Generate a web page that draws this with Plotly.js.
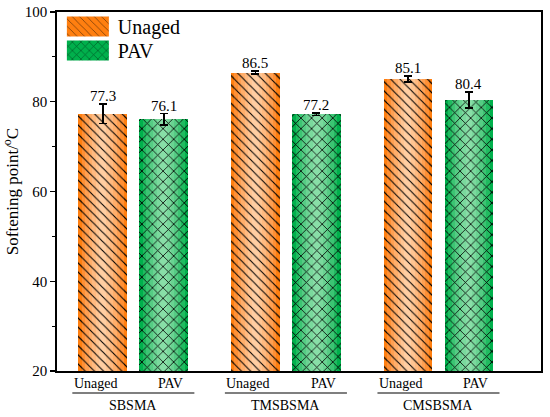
<!DOCTYPE html>
<html>
<head>
<meta charset="utf-8">
<script src="https://cdn.plot.ly/plotly-3.0.1.min.js"></script>
<style>html,body{margin:0;padding:0;background:#fff;}#chart{width:550px;height:417px;}</style>
</head>
<body>
<div id="chart"></div>
<script>
// ---- data ----
var groups = ["SBSMA", "TMSBSMA", "CMSBSMA"];
var seriesNames = ["Unaged", "PAV"];
var unagedValues = [77.3, 86.5, 85.1];
var unagedErrors = [2.2, 0.35, 0.65];
var pavValues = [76.1, 77.2, 80.4];
var pavErrors = [1.25, 0.3, 1.8];
var yTicks = [20, 40, 60, 80, 100];

// ---- styles ----
var FONT = "Liberation Serif";
var groupStep = 2.5, barW = 0.8;
var orangeShades = ["#FF7F10", "#FF9035", "#FFA052", "#FFAE6A", "#FFBA80", "#FFC592", "#FFCEA2"];
var greenShades = ["#00B04C", "#20BB60", "#3CC473", "#55CC84", "#6AD392", "#7AD99D", "#88DEA7"];

var series = [
  {name: seriesNames[0], vals: unagedValues, errs: unagedErrors, off: 0, shades: orangeShades, shape: "\\", size: 6.5, sol: 0.16, legend: "legend", ly: 1.014},
  {name: seriesNames[1], vals: pavValues, errs: pavErrors, off: 1, shades: greenShades, shape: "x", size: 7.5, sol: 0.2, legend: "legend2", ly: 0.947}
];

var traces = [];
var annotations = [];
var shapes = [];

series.forEach(function (s) {
  var xs = groups.map(function (g, i) { return i * groupStep + s.off; });
  s.shades.forEach(function (c, k) {
    var w = barW * (1 - k / s.shades.length);
    var t = {
      type: "bar", x: xs, y: s.vals, width: w,
      marker: {color: c, line: {width: 0}},
      hoverinfo: "skip", showlegend: false, name: s.name, legend: s.legend
    };
    if (k === 0) {
      t.showlegend = true;
      t.marker.pattern = {shape: s.shape, fillmode: "overlay", fgcolor: "#000", size: s.size, solidity: s.sol};
    }
    traces.push(t);
  });
  traces.push({
    type: "bar", x: xs, y: s.vals, width: barW, name: s.name, showlegend: false, legend: s.legend,
    marker: {color: "#000", line: {width: 0}, pattern: {shape: s.shape, fillmode: "replace", size: s.size, solidity: s.sol}},
    error_y: {type: "data", array: s.errs, visible: true, color: "#000", thickness: 1.5, width: 4}
  });
  xs.forEach(function (x, i) {
    annotations.push({
      x: x, y: s.vals[i] + s.errs[i], xref: "x", yref: "y", text: s.vals[i].toFixed(1),
      showarrow: false, yanchor: "bottom", yshift: -2, font: {family: FONT, size: 15, color: "#000"}
    });
    annotations.push({
      x: x, y: 0, xref: "x", yref: "paper", text: s.name, showarrow: false,
      xshift: s.off === 0 ? -7 : 7, yanchor: "middle", yshift: -12,
      font: {family: FONT, size: 14, color: "#000"}
    });
  });
});

groups.forEach(function (g, i) {
  var c = i * groupStep + 0.5;
  shapes.push({type: "line", xref: "x", yref: "paper", x0: c - 1, x1: c + 1, y0: -0.0613, y1: -0.0613, line: {color: "#000", width: 1.2}});
  annotations.push({x: c, y: 0, xref: "x", yref: "paper", text: g, showarrow: false, yanchor: "middle", yshift: -34, font: {family: FONT, size: 14, color: "#000"}});
});

function legendCfg(y) {
  return {
    x: 0.008, y: y, xanchor: "left", yanchor: "top", bgcolor: "rgba(0,0,0,0)",
    font: {family: FONT, size: 20, color: "#000"}, itemwidth: 47
  };
}

var layout = {
  width: 550, height: 417,
  margin: {l: 57, r: 9, t: 12, b: 46, autoexpand: false},
  paper_bgcolor: "#fff", plot_bgcolor: "#fff",
  barmode: "overlay", bargap: 0,
  font: {family: FONT, color: "#000"},
  xaxis: {
    range: [-0.751, 7.18], showticklabels: false, ticks: "", showgrid: false, zeroline: false,
    showline: true, linecolor: "#000", linewidth: 1.8, mirror: true
  },
  yaxis: {
    range: [20, 100], tickvals: yTicks, ticks: "outside", ticklen: 5, tickwidth: 1.3, tickcolor: "#000",
    minor: {dtick: 10, ticks: "outside", ticklen: 3, tickwidth: 1.2, tickcolor: "#000", showgrid: false},
    showgrid: false, zeroline: false, showline: true, linecolor: "#000", linewidth: 1.8, mirror: true,
    tickfont: {family: FONT, size: 15, color: "#000"},
    title: {text: "Softening point/<sup>o</sup>C", font: {family: FONT, size: 17, color: "#000"}, standoff: 8}
  },
  legend: legendCfg(series[0].ly),
  legend2: legendCfg(series[1].ly),
  annotations: annotations,
  shapes: shapes
};

var gd = document.getElementById("chart");
function bigSwatch() {
  var paths = gd.querySelectorAll(".legendpoints path");
  paths.forEach(function (p) { p.setAttribute("d", "M19.5,10H-22.5V-10H19.5Z"); });
}
Plotly.newPlot(gd, traces, layout, {staticPlot: true, displayModeBar: false}).then(function () {
  bigSwatch();
  gd.on && gd.on("plotly_afterplot", bigSwatch);
});
</script>
</body>
</html>
